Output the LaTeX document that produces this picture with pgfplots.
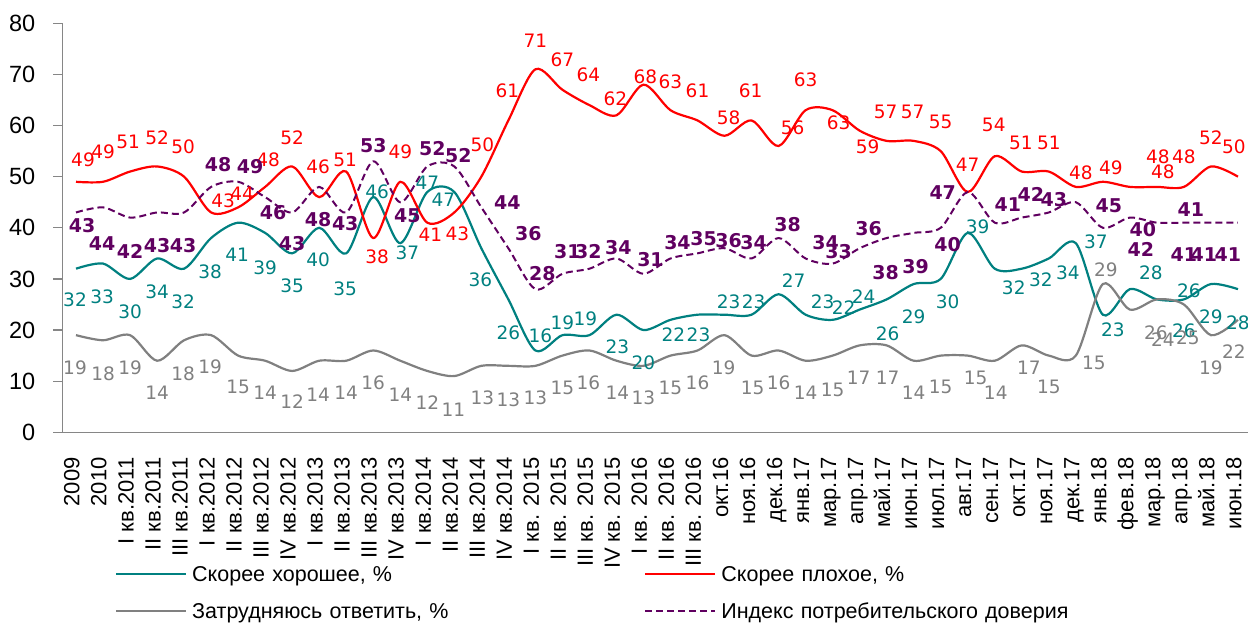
\documentclass[border=0pt]{standalone}
\usepackage{fontspec}
\setmainfont{Liberation Sans}
\newfontfamily\labfont{DejaVu Sans}
\usepackage{pgfplots}
\pgfplotsset{compat=1.18}
\usepackage{pgfplotstable}

\definecolor{cteal}{RGB}{0,128,128}
\definecolor{cred}{RGB}{255,0,0}
\definecolor{cgray}{RGB}{128,128,128}
\definecolor{cpurple}{RGB}{96,0,96}
\definecolor{caxis}{RGB}{134,134,134}

% columns: x index, value, label x offset, label y offset (pt)
\pgfplotstableread{
x y dx up
0 32 -1 -31
1 33 -1 -33
2 30 0 -33
3 34 0 -33
4 32 -1 -33
5 38 -1 -34
6 41 -1 -32
7 39 0 -35
8 35 0 -32
9 40 -1 -32
10 35 -1 -35
11 46 4 5
12 37 7 -10
13 47 0 9
14 47 -11 -8
15 36 -1 -32
16 26 0 -33
17 16 5 15
18 19 0 12
19 19 -4 16
20 23 1 -32
21 20 0 -33
22 22 3 -15
23 23 1 -20
24 23 4 13
25 23 2 13
26 27 15 14
27 23 17 13
28 22 11 12
29 24 4 13
30 26 1 -34
31 29 0 -33
32 30 7 -23
33 39 10 6
34 32 19 -19
35 32 19 -11
36 34 19 -14
37 37 20 1
38 23 10 -15
39 28 21 16
40 26 32 9
41 26 0 -31
42 29 0 -33
43 28 0 -34
}\tgood

\pgfplotstableread{
x y dx up
0 49 7 22
1 49 0 30
2 51 -2 30
3 52 0 29
4 50 -1 30
5 43 12 12
6 44 4 14
7 48 3 27
8 52 0 29
9 46 -1 30
10 51 -1 12
11 38 4 -19
12 49 0 30
13 41 3 -12
14 43 3 -21
15 50 1 32
16 61 -1 30
17 71 0 29
18 67 0 30
19 64 -1 30
20 62 -1 17
21 68 2 8
22 63 0 28
23 61 0 30
24 58 4 18
25 61 -1 30
26 56 14 18
27 63 0 30
28 63 6 -13
29 59 8 -16
30 57 -1 29
31 57 -1 29
32 55 0 29
33 47 0 27
34 54 -1 31
35 51 -1 29
36 51 0 29
37 48 5 14
38 49 8 14
39 48 28 30
40 48 6 15
41 48 0 30
42 52 0 29
43 50 -4 30
}\tbad

\pgfplotstableread{
x y dx up
0 19 -1 -33
1 18 0 -33
2 19 0 -33
3 14 0 -32
4 18 -1 -33
5 19 -1 -32
6 15 0 -31
7 14 0 -32
8 12 0 -31
9 14 -1 -34
10 14 0 -32
11 16 0 -32
12 14 0 -34
13 12 0 -32
14 11 -1 -34
15 13 1 -32
16 13 0 -34
17 13 0 -32
18 15 0 -32
19 16 -1 -32
20 14 1 -32
21 13 0 -32
22 15 0 -32
23 16 0 -32
24 19 -1 -33
25 15 1 -32
26 16 0 -32
27 14 0 -32
28 15 0 -34
29 17 -1 -32
30 17 1 -32
31 14 0 -32
32 15 0 -31
33 15 8 -22
34 14 1 -32
35 17 7 -22
36 15 0 -31
37 15 18 -7
38 29 3 14
39 24 33 -30
40 26 -1 -33
41 25 4 -33
42 19 0 -33
43 22 -4 -32
}\tdiff

\pgfplotstableread{
x y dx up
0 43 6 -13
1 44 -1 -36
2 42 0 -34
3 43 0 -33
4 43 -1 -33
5 48 7 22
6 49 12 15
7 46 8 -15
8 43 0 -31
9 48 -1 -33
10 43 -1 -11
11 53 0 16
12 45 7 -13
13 52 5 18
14 52 4 11
15 44 26 5
16 36 20 15
17 28 7 16
18 31 5 22
19 32 -1 17
20 34 2 11
21 31 7 14
22 34 7 16
23 35 6 15
24 36 4 8
25 34 2 16
26 38 9 13
27 34 20 16
28 33 6 12
29 36 9 20
30 38 -1 -35
31 39 2 -34
32 40 7 -17
33 47 -25 -1
34 41 13 18
35 42 9 23
36 43 5 13
37 45 33 -3
38 40 40 -2
39 42 11 -32
40 41 27 -32
41 41 7 13
42 41 -7 -32
43 41 -10 -32
}\tindex

\pgfplotsset{
  labelled/.style={
    smooth, no marks,
    point meta=y,
    nodes near coords,
    visualization depends on={\thisrow{dx}\as\ldx},
    visualization depends on={\thisrow{up}\as\lup},
    every node near coord/.append style={anchor=center, inner sep=0pt,
      xshift=\ldx pt, yshift=\lup pt, text=#1},
  },
}

\begin{document}
\begin{tikzpicture}
\begin{axis}[
  at={(0pt,0pt)}, anchor=south west,
  scale only axis, width=1189pt, height=409pt,
  xmin=-0.5, xmax=43.5, ymin=0, ymax=80,
  clip=false,
  axis lines*=left,
  axis line style={caxis, line width=1.3pt},
  /pgf/number format/assume math mode=true,
  xtick={0,...,43},
  xticklabels={2009,2010,I кв.2011,II кв.2011,III кв.2011,I кв.2012,II кв.2012,III кв.2012,IV кв.2012,I кв.2013,II кв.2013,III кв.2013,IV кв.2013,I кв.2014,II кв.2014,III кв.2014,IV кв.2014,I кв. 2015,II кв. 2015,III кв. 2015,IV кв. 2015,I кв. 2016,II кв. 2016,III кв. 2016,окт.16,ноя.16,дек.16,янв.17,мар.17,апр.17,май.17,июн.17,июл.17,авг.17,сен.17,окт.17,ноя.17,дек.17,янв.18,фев.18,мар.18,апр.18,май.18,июн.18},
  ytick={0,10,...,80},
  tick align=outside, major tick length=9pt,
  tick style={caxis, line width=1.3pt},
  major x tick style={draw=none},
  tick label style={font=\fontsize{23.5}{28}\selectfont, text=black},
  xticklabel style={rotate=90, anchor=east, inner sep=0pt, font=\fontsize{22}{26}\selectfont, text height=0.905em, text depth=0.212em},
  xticklabel shift=16pt,
  yticklabel style={inner sep=0pt},
  yticklabel shift=18pt,
  legend columns=2,
  legend cell align=left,
  legend style={at={(axis description cs:0.04415,-0.3276)}, anchor=north west,
    draw=none, fill=none, inner sep=0pt, outer sep=0pt,
    font=\fontsize{21.5}{25}\selectfont,
    row sep=21.6pt, column sep=0pt,
    nodes={inner sep=0pt, text height=15.4pt, text depth=0pt, text width=452pt},
    /tikz/every odd column/.append style={column sep=5pt}},
  legend image code/.code={\draw[#1] (0pt,0pt) -- (70pt,0pt);},
]
\addlegendimage{cteal, line width=2.2pt}
\addlegendentry{Скорее хорошее, \%}
\addlegendimage{cred, line width=2.2pt}
\addlegendentry{Скорее плохое, \%}
\addlegendimage{cgray, line width=2.2pt}
\addlegendentry{Затрудняюсь ответить, \%}
\addlegendimage{cpurple, line width=2pt, dash pattern=on 7pt off 4pt}
\addlegendentry{Индекс потребительского доверия}

\addplot[cteal, line width=2.2pt, labelled=cteal, forget plot,
  every node near coord/.append style={font=\labfont\fontsize{18.5}{20}\selectfont}]
  table[x=x,y=y] {\tgood};
\addplot[cred, line width=2.2pt, labelled=cred, forget plot,
  every node near coord/.append style={font=\labfont\fontsize{18.5}{20}\selectfont}]
  table[x=x,y=y] {\tbad};
\addplot[cgray, line width=2.2pt, labelled=cgray, forget plot,
  every node near coord/.append style={font=\labfont\fontsize{18.5}{20}\selectfont}]
  table[x=x,y=y] {\tdiff};
\addplot[cpurple, line width=2pt, dash pattern=on 7pt off 4pt, labelled=cpurple, forget plot,
  every node near coord/.append style={font=\labfont\bfseries\fontsize{19}{20}\selectfont}]
  table[x=x,y=y] {\tindex};
\end{axis}
\pgfresetboundingbox
\path (-62.5pt,-190.7pt) rectangle (1185.5pt,432.3pt);
\end{tikzpicture}
\end{document}
